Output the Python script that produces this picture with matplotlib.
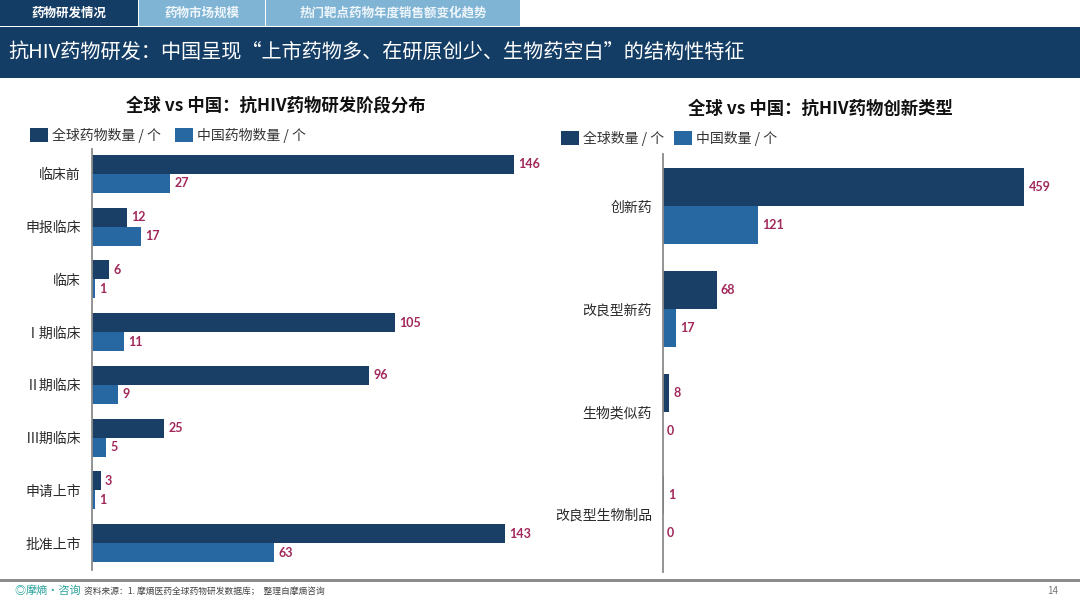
import numpy as np
import matplotlib
matplotlib.use("Agg")
from matplotlib import pyplot as plt
from matplotlib.patches import Rectangle

plt.rcParams["font.family"] = ["Noto Sans CJK SC", "DejaVu Sans"]

W, H = 1080, 608

# left chart data
stages = ["临床前", "申报临床", "临床", "Ⅰ期临床", "Ⅱ期临床", "Ⅲ期临床", "申请上市", "批准上市"]
stage_global = [146, 12, 6, 105, 96, 25, 3, 143]
stage_china = [27, 17, 1, 11, 9, 5, 1, 63]

# right chart data
types = ["创新药", "改良型新药", "生物类似药", "改良型生物制品"]
type_global = [459, 68, 8, 1]
type_china = [121, 17, 0, 0]

tabs = ["药物研发情况", "药物市场规模", "热门靶点药物年度销售额变化趋势"]
title = "抗HIV药物研发：中国呈现“上市药物多、在研原创少、生物药空白”的结构性特征"

DARK = "#193f66"
MID = "#2868a2"
LABEL = "#a1285a"
NAVY = "#143d65"
TAB_LIGHT = "#80b4d4"


def fx(px):
    return px / W


def fy(py):
    return 1 - py / H


def rect(x0, y0, x1, y1, color):
    fig.add_artist(Rectangle((fx(x0), fy(y1)), fx(x1) - fx(x0), fy(y0) - fy(y1),
                             transform=fig.transFigure, color=color, lw=0, zorder=0))


fig = plt.figure(figsize=(W / 100, H / 100), dpi=100)
fig.patch.set_facecolor("white")

# tabs + title bar
tab_edges = [(0, 138), (139, 265), (266, 520)]
for i, (name, (a, b)) in enumerate(zip(tabs, tab_edges)):
    rect(a, 0, b, 26, NAVY if i == 0 else TAB_LIGHT)
    fig.text(fx((a + b) / 2), fy(13), name, ha="center", va="center",
             color="white" if i == 0 else "#eef6fb", fontsize=9, fontweight="bold")
rect(0, 27, W, 78, NAVY)
fig.text(fx(8), fy(52), title, ha="left", va="center", color="white", fontsize=14.5)

# footer
rect(0, 579, W, 582, "#8c8c8c")
fig.text(fx(14), fy(591), "◎", ha="left", va="center", color="#2aa39d", fontsize=8)
fig.text(fx(26), fy(591), "摩熵·咨询", ha="left", va="center", color="#2aa39d", fontsize=8)
fig.text(fx(84), fy(591), "资料来源：1. 摩熵医药全球药物研发数据库；  整理自摩熵咨询",
         ha="left", va="center", color="#444444", fontsize=6.3)
fig.text(fx(1047), fy(591), "14", ha="left", va="center", color="#777777", fontsize=7)


def draw_panel(box, cats, glob, chn, xmax, ylim, h, sub, sub_xy, legend_items):
    l, t, r, b = box
    ax = fig.add_axes([fx(l), fy(b), fx(r) - fx(l), fy(t) - fy(b)])
    y = np.arange(len(cats))
    b1 = ax.barh(y - h / 2, glob, height=h, color=DARK)
    b2 = ax.barh(y + h / 2, chn, height=h, color=MID)
    for bars in (b1, b2):
        ax.bar_label(bars, padding=3, color=LABEL, fontsize=9, fontweight="bold",
                     family=["Lato", "DejaVu Sans"])
    ax.set_xlim(0, xmax)
    ax.set_ylim(*ylim)
    ax.set_yticks(y)
    ax.set_yticklabels(cats, fontsize=10, color="#2a2a2a")
    ax.tick_params(axis="y", length=0, pad=8)
    ax.set_xticks([])
    for s in ("top", "right", "bottom"):
        ax.spines[s].set_visible(False)
    ax.spines["left"].set_color("#8a8a8a")
    ax.spines["left"].set_linewidth(1.3)
    ax.set_facecolor("none")
    fig.text(fx(sub_xy[0]), fy(sub_xy[1]), sub, ha="center", va="center",
             fontsize=12.5, fontweight="bold", color="#111111")
    for (sx, sy, txt, col) in legend_items:
        rect(sx, sy - 7, sx + 18, sy + 7, col)
        fig.text(fx(sx + 22), fy(sy), txt, ha="left", va="center", fontsize=10, color="#333333")
    return ax


draw_panel((92, 149, 540, 570), stages, stage_global, stage_china, 155,
           (7.51, -0.47), 0.36, "全球 vs 中国：抗HIV药物研发阶段分布", (276, 106),
           [(30, 135, "全球药物数量 / 个", DARK), (175, 135, "中国药物数量 / 个", MID)])

draw_panel((663, 154, 1070, 572), types, type_global, type_china, 517,
           (3.56, -0.506), 0.37, "全球 vs 中国：抗HIV药物创新类型", (820, 109),
           [(561, 138, "全球数量 / 个", DARK), (674, 138, "中国数量 / 个", MID)])

fig.savefig("out.png", dpi=100)
